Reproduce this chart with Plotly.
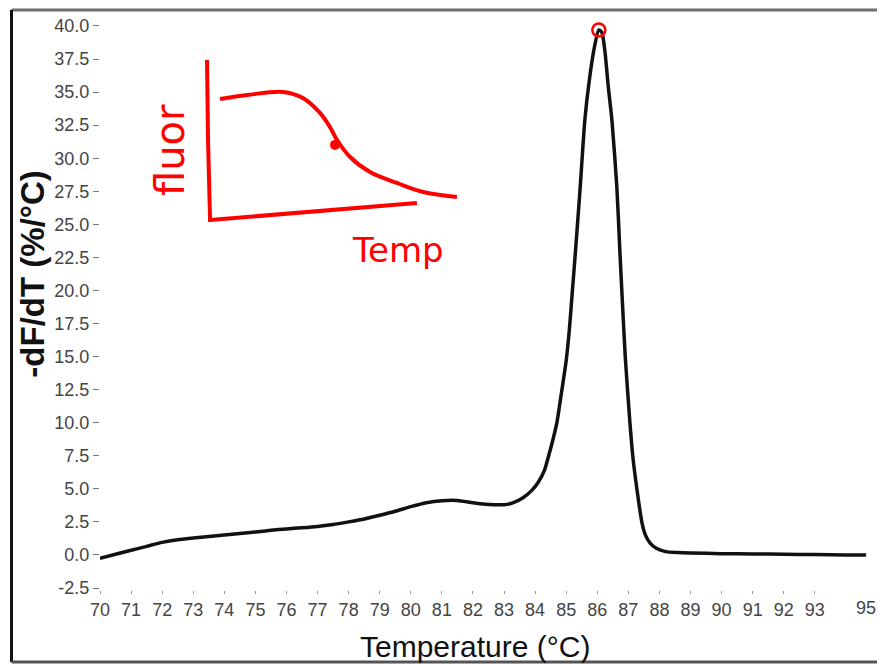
import plotly.graph_objects as go

# ---- melt-peak data ----
temperature = [70.0, 70.5, 71.0, 71.5, 72.0, 72.5, 73.0, 73.5, 74.0, 74.5, 75.0, 75.5,
               76.0, 76.5, 77.0, 77.5, 78.0, 78.5, 79.0, 79.5, 80.0, 80.5, 81.0, 81.5,
               82.0, 82.5, 83.0, 83.3, 83.6, 83.9, 84.1, 84.3, 84.4, 84.55, 84.7, 84.85,
               85.0, 85.1, 85.2, 85.3, 85.45, 85.6, 85.75, 85.9, 86.05, 86.15, 86.25,
               86.35, 86.47, 86.63, 86.73, 86.8, 86.9, 87.05, 87.15, 87.28, 87.44, 87.55,
               87.7, 87.9, 88.2, 88.6, 89.0, 90.0, 91.0, 92.0, 93.0, 94.0, 94.65]
dfdt = [-0.25, 0.05, 0.35, 0.65, 0.95, 1.15, 1.28, 1.4, 1.5, 1.62, 1.74, 1.86,
        1.97, 2.05, 2.15, 2.3, 2.5, 2.72, 3.0, 3.3, 3.65, 3.95, 4.1, 4.12,
        3.95, 3.82, 3.8, 3.95, 4.3, 4.9, 5.5, 6.4, 7.2, 8.5, 10.0, 12.3,
        14.7, 17.0, 20.0, 23.0, 27.8, 32.9, 36.0, 38.3, 39.7, 39.5, 38.0,
        35.5, 32.9, 27.8, 22.8, 19.5, 15.0, 10.0, 7.3, 4.9, 2.4, 1.5,
        0.9, 0.5, 0.25, 0.18, 0.15, 0.1, 0.08, 0.05, 0.03, 0.0, 0.0]

x_tick_values = [70, 71, 72, 73, 74, 75, 76, 77, 78, 79, 80, 81, 82, 83, 84, 85,
                 86, 87, 88, 89, 90, 91, 92, 93]
y_tick_values = [-2.5, 0.0, 2.5, 5.0, 7.5, 10.0, 12.5, 15.0, 17.5, 20.0, 22.5, 25.0,
                 27.5, 30.0, 32.5, 35.0, 37.5, 40.0]
y_tick_labels = ["-2.5", "0.0", "2.5", "5.0", "7.5", "10.0", "12.5", "15.0", "17.5",
                 "20.0", "22.5", "25.0", "27.5", "30.0", "32.5", "35.0", "37.5", "40.0"]

# ---- hand-drawn red sketch (inset, unit coordinates) ----
sketch_axes_u = [0.008, 0.012, 0.02, 0.3, 0.6, 0.831]
sketch_axes_v = [0.988, 0.5, 0.012, 0.05, 0.085, 0.116]
sketch_curve_u = [0.059, 0.165, 0.306, 0.384, 0.451, 0.490, 0.518, 0.569, 0.647,
                  0.753, 0.855, 0.988]
sketch_curve_v = [0.750, 0.774, 0.793, 0.756, 0.665, 0.579, 0.500, 0.396, 0.305,
                  0.238, 0.183, 0.152]
sketch_dot_u = [0.51]
sketch_dot_v = [0.47]

RED = "#ff0000"
FONT = "Liberation Sans, Arial, sans-serif"

fig = go.Figure()

fig.add_trace(go.Scatter(x=temperature, y=dfdt, mode="lines",
                         line=dict(color="#111111", width=3.5, shape="spline", smoothing=0.6),
                         hoverinfo="skip", showlegend=False))

peak_i = max(range(len(dfdt)), key=lambda i: dfdt[i])
fig.add_trace(go.Scatter(x=[temperature[peak_i]], y=[dfdt[peak_i]], mode="markers",
                         marker=dict(symbol="circle-open", size=13, color=RED,
                                     line=dict(color=RED, width=2.5)),
                         showlegend=False, hoverinfo="skip"))

# inset sketch
fig.add_trace(go.Scatter(x=sketch_axes_u, y=sketch_axes_v, mode="lines",
                         line=dict(color=RED, width=4),
                         xaxis="x2", yaxis="y2", showlegend=False, hoverinfo="skip"))
fig.add_trace(go.Scatter(x=sketch_curve_u, y=sketch_curve_v, mode="lines",
                         line=dict(color=RED, width=4, shape="spline"),
                         xaxis="x2", yaxis="y2", showlegend=False, hoverinfo="skip"))
fig.add_trace(go.Scatter(x=sketch_dot_u, y=sketch_dot_v, mode="markers",
                         marker=dict(color=RED, size=10),
                         xaxis="x2", yaxis="y2", showlegend=False, hoverinfo="skip"))

fig.update_layout(
    width=877, height=664,
    margin=dict(l=100, r=0, t=18, b=74),
    paper_bgcolor="white", plot_bgcolor="white",
    showlegend=False,
    xaxis=dict(range=[70, 95], tickvals=x_tick_values, showgrid=False, zeroline=False,
               showline=False, ticks="outside", ticklen=3, tickcolor="#999999",
               tickfont=dict(family=FONT, size=18, color="#444444"), automargin=False),
    yaxis=dict(range=[-2.65, 40.6], tickvals=y_tick_values, ticktext=y_tick_labels,
               showgrid=False, zeroline=False, showline=False, ticks="outside",
               ticklen=6, tickcolor="#777777",
               tickfont=dict(family=FONT, size=18, color="#444444"), automargin=False),
    xaxis2=dict(domain=[0.1351, 0.4633], range=[0, 1], visible=False, anchor="y2"),
    yaxis2=dict(domain=[0.6434, 0.9301], range=[0, 1], visible=False, anchor="x2"),
)

annotations = [
    dict(text="Temperature (°C)", x=0.483, y=-0.099, xref="paper", yref="paper",
         xanchor="center", yanchor="middle", showarrow=False,
         font=dict(family=FONT, size=30, color="#111111")),
    dict(text="<b>-dF/dT (%/°C)</b>", x=-0.087, y=0.552, xref="paper", yref="paper",
         xanchor="center", yanchor="middle", showarrow=False, textangle=-90,
         font=dict(family=FONT, size=33, color="#111111")),
    dict(text="95", x=0.986, y=-0.0315, xref="paper", yref="paper",
         xanchor="center", yanchor="middle", showarrow=False,
         font=dict(family=FONT, size=18, color="#444444")),
    dict(text="fluor", x=0.090, y=0.769, xref="paper", yref="paper",
         xanchor="center", yanchor="middle", showarrow=False, textangle=-90,
         font=dict(family="DejaVu Sans", size=40, color=RED)),
    dict(text="Temp", x=0.384, y=0.594, xref="paper", yref="paper",
         xanchor="center", yanchor="middle", showarrow=False,
         font=dict(family="DejaVu Sans", size=34, color=RED)),
]
fig.update_layout(annotations=annotations)

# outer frame of the screenshot
fig.update_layout(shapes=[
    dict(type="line", xref="paper", yref="paper", x0=-0.1139, x1=1.0, y0=1.014, y1=1.014,
         line=dict(color="#6e6e6e", width=3)),
    dict(type="line", xref="paper", yref="paper", x0=-0.1139, x1=-0.1139, y0=-0.1259, y1=1.014,
         line=dict(color="#111111", width=3)),
    dict(type="line", xref="paper", yref="paper", x0=-0.1139, x1=1.0, y0=-0.1259, y1=-0.1259,
         line=dict(color="#555555", width=3)),
])

fig.write_html("out.html", config={"displayModeBar": False})

# remove the browser's default 8px body margin so the figure sits at the page origin
with open("out.html", "r", encoding="utf-8") as f:
    html = f.read()
html = html.replace("<head>", "<head><style>html,body{margin:0;padding:0;overflow:hidden;}</style>", 1)
with open("out.html", "w", encoding="utf-8") as f:
    f.write(html)
